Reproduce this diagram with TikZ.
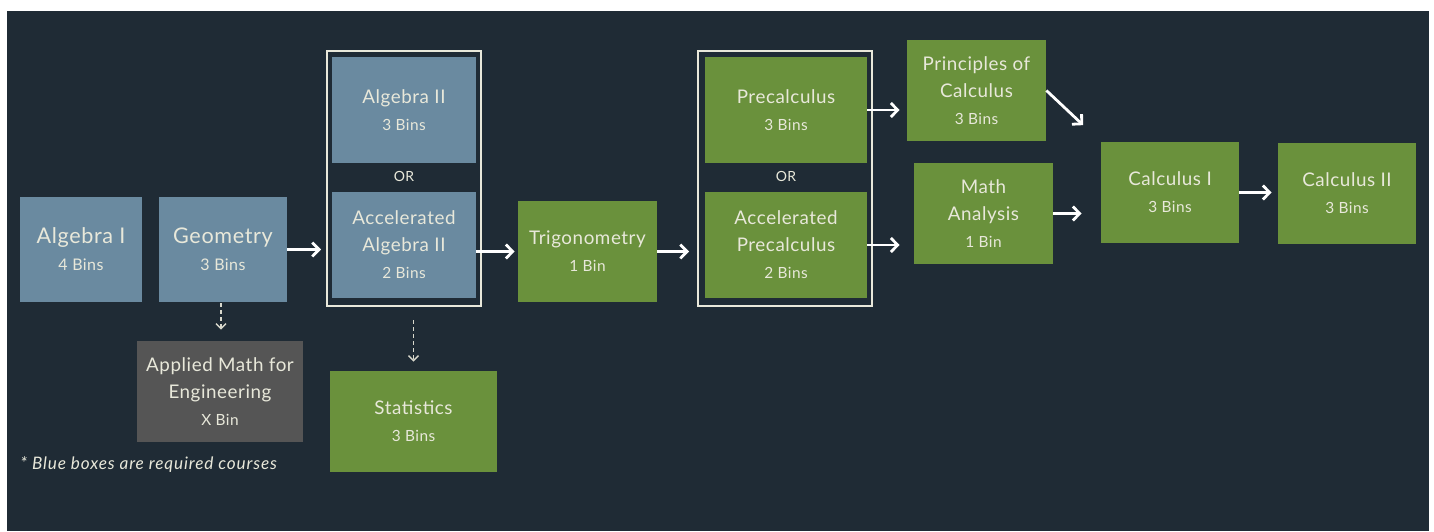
\documentclass[tikz,border=0pt]{standalone}
\usepackage{fontspec}
\setmainfont{Lato}[LetterSpace=3]
\usetikzlibrary{arrows.meta}
\definecolor{bg}{HTML}{1F2B35}
\definecolor{bluebox}{HTML}{6A8AA0}
\definecolor{greenbox}{HTML}{6A913C}
\definecolor{graybox}{HTML}{555555}
\definecolor{txt}{HTML}{E8E8DA}
\newcommand\binsline[1]{{\fontsize{7.7}{12}\selectfont #1}}
\newcommand\binsbig[1]{{\fontsize{8}{12.5}\selectfont #1}}
\begin{document}
\begin{tikzpicture}[x=0.5pt,y=-0.5pt,
  sz/.style 2 args={minimum width=#1*0.5pt, minimum height=#2*0.5pt},
  course/.style={rectangle, inner sep=0pt, text=txt, align=center,
     font=\fontsize{9.4}{13.5}\selectfont},
  bigcourse/.style={course, font=\fontsize{10.8}{13.5}\selectfont},
  req/.style={fill=bluebox},
  opt/.style={fill=greenbox},
  eng/.style={fill=graybox},
  frame/.style={draw=txt, line width=1pt, fill=none, inner sep=0pt},
  ortext/.style={text=txt, font=\fontsize{7}{8}\selectfont},
  arr/.style={draw=white, line width=1.4pt, -{Straight Barb[length=3.4pt,width=7pt,line width=1.4pt]}},
  darr/.style={draw=txt!85!gray, line width=0.7pt, dash pattern=on 2pt off 1.5pt,
     -{Straight Barb[length=2.5pt,width=5pt,line width=0.7pt]}}
]
\useasboundingbox (0,0) rectangle (1434,531);
\fill[white] (0,0) rectangle (1434,531);
\fill[bg] (7,11) rectangle (1429,531);

% frames
\node[frame, sz={154}{255}] (frame1) at (404,178.5) {};
\node[frame, sz={174}{255}] (frame2) at (785,178.5) {};

% blue required courses
\node[bigcourse, req, sz={122}{105}] (alg1) at (81,249.5) {Algebra I\\\binsbig{4 Bins}};
\node[bigcourse, req, sz={128}{105}] (geom) at (223,249.5) {Geometry\\\binsbig{3 Bins}};
\node[course, req, sz={144}{106}] (alg2) at (404,110) {Algebra II\\\binsline{3 Bins}};
\node[course, req, sz={144}{106}] (accalg2) at (404,245) {Accelerated\\Algebra II\\\binsline{2 Bins}};
\node[ortext] (or1) at (404,176) {OR};

% engineering
\node[course, eng, sz={166}{101}] (applied) at (220,391.5) {Applied Math for\\Engineering\\\binsline{X Bin}};

% green courses
\node[course, opt, sz={167}{101}] (stats) at (413.5,421.5) {Statistics\\\binsline{3 Bins}};
\node[course, opt, sz={139}{101}] (trig) at (587.5,251.5) {Trigonometry\\\binsline{1 Bin}};
\node[course, opt, sz={162}{106}] (precalc) at (786,110) {Precalculus\\\binsline{3 Bins}};
\node[course, opt, sz={162}{106}] (accprecalc) at (786,245) {Accelerated\\Precalculus\\\binsline{2 Bins}};
\node[ortext] (or2) at (786,176) {OR};
\node[course, opt, sz={139}{101}] (princ) at (976.5,90.5) {Principles of\\Calculus\\\binsline{3 Bins}};
\node[course, opt, sz={139}{101}] (mathan) at (983.5,213.5) {Math\\Analysis\\\binsline{1 Bin}};
\node[course, opt, sz={138}{101}] (calc1) at (1170,192.5) {Calculus I\\\binsline{3 Bins}};
\node[course, opt, sz={138}{101}] (calc2) at (1347,193.5) {Calculus II\\\binsline{3 Bins}};

% footnote
\node[anchor=base west, inner sep=0pt, text=txt, font=\fontsize{8.6}{10}\selectfont\itshape\addfontfeatures{LetterSpace=5}] (note) at (20,469) {* Blue boxes are required courses};

% arrows
\draw[arr, shorten >=2.5pt] (geom.east) -- (geom.east -| frame1.west);
\draw[arr, shorten >=1.5pt] (trig.west -| accalg2.east) -- (trig.west);
\draw[arr, shorten >=4pt] (trig.east) -- (trig.east -| frame2.west);
\draw[arr, shorten >=3.5pt] (precalc.east) -- (precalc.east -| princ.west);
\draw[arr, shorten >=7pt] (accprecalc.east) -- (accprecalc.east -| mathan.west);
\draw[arr, shorten >=12pt] (princ.east) -- (calc1.north west);
\draw[arr, shorten >=9.5pt] (mathan.east) -- (mathan.east -| calc1.west);
\draw[arr, shorten >=3pt] (calc1.east) -- (calc1.east -| calc2.west);

% dashed arrows
\draw[darr, shorten <=0.5pt, shorten >=5.5pt] ([xshift=-1pt]geom.south) -- ([xshift=-1pt]geom.south |- applied.north);
\draw[darr, shorten <=6.5pt, shorten >=4.5pt] (stats.north |- frame1.south) -- (stats.north);
\end{tikzpicture}
\end{document}
